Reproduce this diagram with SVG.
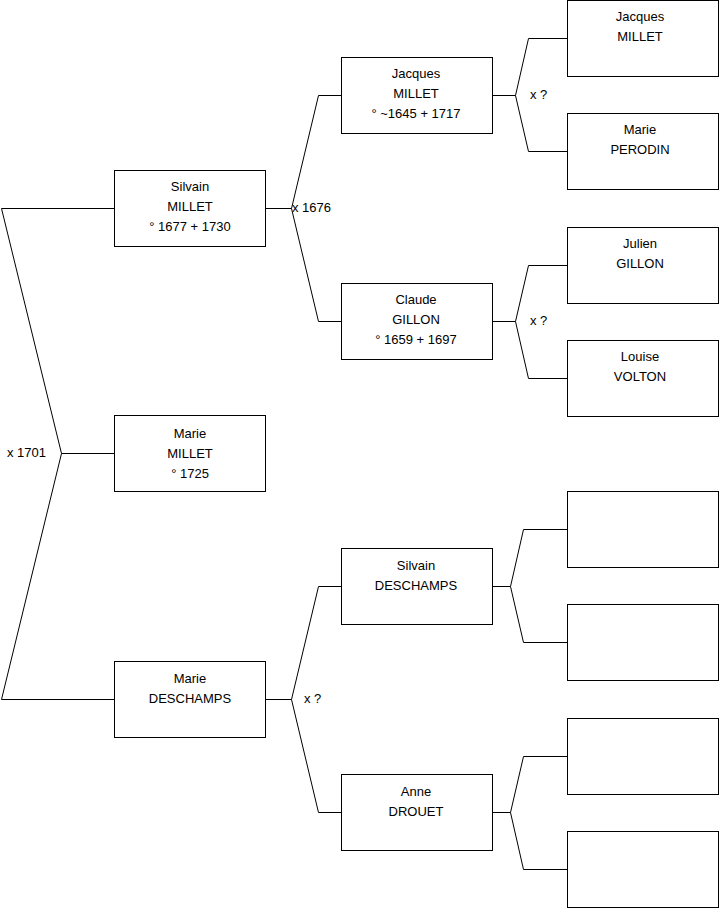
<svg xmlns="http://www.w3.org/2000/svg" width="719" height="908" viewBox="0 0 719 908">
<style>
rect.b{fill:#fff;stroke:#000;stroke-width:1}
path.c{fill:none;stroke:#000;stroke-width:1}
text{font-family:"Liberation Sans",Arial,sans-serif;font-size:13px;fill:#000}
text.n{text-anchor:middle}
</style>
<rect width="719" height="908" fill="#fff"/>
<g id="connectors">
<path class="c" d="M114.5,208.5H1.5L61.5,453.5L1.5,699.5H114.5M61.5,453.5H114.5"/>
<path class="c" d="M265.5,208.5H291.5L318.5,95.5H341.5M291.5,208.5L318.5,321.5H341.5"/>
<path class="c" d="M265.5,699.5H291.5L318.5,586.5H341.5M291.5,699.5L318.5,812.5H341.5"/>
<path class="c" d="M492.5,95.5H515.5L528.5,38.5H567.5M515.5,95.5L528.5,151.5H567.5"/>
<path class="c" d="M492.5,321.5H515.5L528.5,265.5H567.5M515.5,321.5L528.5,378.5H567.5"/>
<path class="c" d="M492.5,586.5H510.5L523.5,529.5H567.5M510.5,586.5L523.5,642.5H567.5"/>
<path class="c" d="M492.5,812.5H510.5L523.5,756.5H567.5M510.5,812.5L523.5,869.5H567.5"/>
<text x="7" y="457">x 1701</text>
<text x="292" y="212">x 1676</text>
<text x="304" y="703">x ?</text>
<text x="530" y="99">x ?</text>
<text x="530" y="325">x ?</text>
</g>
<g id="silvain-millet"><rect class="b" x="114.5" y="170.5" width="151" height="76"/><text class="n" x="190" y="191">Silvain</text><text class="n" x="190" y="211">MILLET</text><text class="n" x="190" y="231">° 1677 + 1730</text></g>
<g id="marie-millet"><rect class="b" x="114.5" y="415.5" width="151" height="76"/><text class="n" x="190" y="438">Marie</text><text class="n" x="190" y="458">MILLET</text><text class="n" x="190" y="478">° 1725</text></g>
<g id="marie-deschamps"><rect class="b" x="114.5" y="661.5" width="151" height="76"/><text class="n" x="190" y="683">Marie</text><text class="n" x="190" y="703">DESCHAMPS</text></g>
<g id="jacques-millet-1"><rect class="b" x="341.5" y="57.5" width="151" height="76"/><text class="n" x="416" y="78">Jacques</text><text class="n" x="416" y="98">MILLET</text><text class="n" x="416" y="118">° ~1645 + 1717</text></g>
<g id="claude-gillon"><rect class="b" x="341.5" y="283.5" width="151" height="76"/><text class="n" x="416" y="304">Claude</text><text class="n" x="416" y="324">GILLON</text><text class="n" x="416" y="344">° 1659 + 1697</text></g>
<g id="silvain-deschamps"><rect class="b" x="341.5" y="548.5" width="151" height="76"/><text class="n" x="416" y="570">Silvain</text><text class="n" x="416" y="590">DESCHAMPS</text></g>
<g id="anne-drouet"><rect class="b" x="341.5" y="774.5" width="151" height="76"/><text class="n" x="416" y="796">Anne</text><text class="n" x="416" y="816">DROUET</text></g>
<g id="jacques-millet-2"><rect class="b" x="567.5" y="0.5" width="151" height="76"/><text class="n" x="640" y="21">Jacques</text><text class="n" x="640" y="41">MILLET</text></g>
<g id="marie-perodin"><rect class="b" x="567.5" y="113.5" width="151" height="76"/><text class="n" x="640" y="134">Marie</text><text class="n" x="640" y="154">PERODIN</text></g>
<g id="julien-gillon"><rect class="b" x="567.5" y="227.5" width="151" height="76"/><text class="n" x="640" y="248">Julien</text><text class="n" x="640" y="268">GILLON</text></g>
<g id="louise-volton"><rect class="b" x="567.5" y="340.5" width="151" height="76"/><text class="n" x="640" y="361">Louise</text><text class="n" x="640" y="381">VOLTON</text></g>
<g id="empty-1"><rect class="b" x="567.5" y="491.5" width="151" height="76"/></g>
<g id="empty-2"><rect class="b" x="567.5" y="604.5" width="151" height="76"/></g>
<g id="empty-3"><rect class="b" x="567.5" y="718.5" width="151" height="76"/></g>
<g id="empty-4"><rect class="b" x="567.5" y="831.5" width="151" height="76"/></g>
</svg>
